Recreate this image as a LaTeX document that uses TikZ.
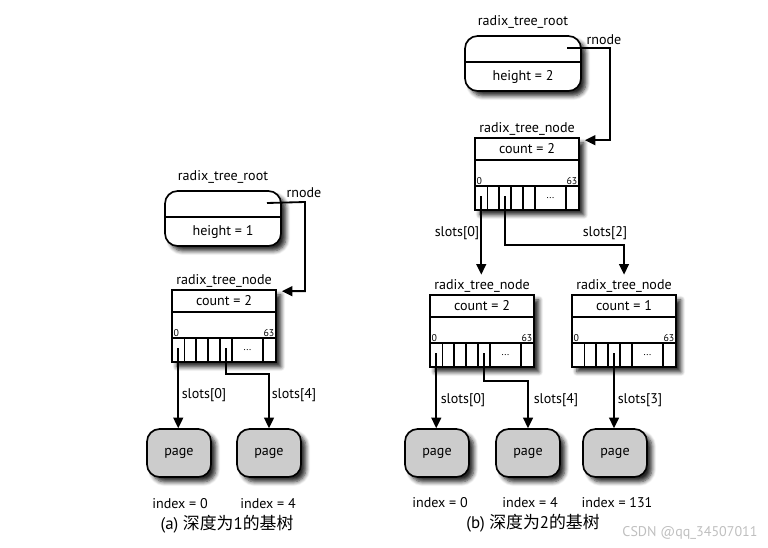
\documentclass[tikz,border=0pt]{standalone}
\usepackage{fontspec}
\setmainfont{PT Sans}
\newfontfamily\cjk{Noto Sans CJK SC}
\usetikzlibrary{arrows.meta,shadows.blur}

\tikzset{
  boxline/.style={line width=1.2pt},
  boxshadow/.style={blur shadow={shadow xshift=3.5pt,shadow yshift=-3.5pt,shadow blur steps=6,shadow blur radius=3pt,shadow opacity=85}},
  rootbox/.style={boxline,draw,fill=white,rounded corners=9pt,minimum width=2.9cm,minimum height=1.375cm,inner sep=0pt,boxshadow},
  nodebox/.style={boxline,draw,fill=white,minimum width=2.6cm,minimum height=1.8cm,inner sep=0pt,boxshadow},
  pagebox/.style={boxline,draw,fill=gray!40,rounded corners=9pt,minimum width=1.6cm,minimum height=1.2cm,boxshadow},
  ptr/.style={line width=1.3pt,-{Triangle[length=7.5pt,width=7pt]}},
  lbl/.style={font=\normalsize},
  idx/.style={font=\scriptsize,inner sep=1pt}
}

% radix_tree_root: name, x, y (top left), height
\newcommand\radixroot[4]{%
  \begin{scope}[shift={(#2,#3)}]
    \node[rootbox] (#1) at (58,27.5) {};
    \draw[boxline] (0,26) -- (116,26);
    \node[lbl] at (58,41) {height = #4};
    \node[lbl] (#1-lbl) at (58,-14) {radix\_tree\_root};
    \coordinate (#1-p) at (102,12);
  \end{scope}}

% radix_tree_node: name, x, y (top left), count
\newcommand\radixnode[4]{%
  \begin{scope}[shift={(#2,#3)}]
    \node[nodebox] (#1) at (52,36) {};
    \draw[boxline] (0,22) -- (104,22);
    \draw[boxline] (0,48) -- (104,48);
    \foreach \sx in {12.5,24,36,48,60,91}
      \draw[boxline] (\sx,48) -- (\sx,72);
    \node[lbl] at (52,11) {count = #4};
    \node[idx,anchor=south west] at (0,48) {0};
    \node[idx,anchor=south east] at (104,48) {63};
    \node[idx] at (75.5,60) {...};
    \node[lbl] (#1-lbl) at (52,-9) {radix\_tree\_node};
    \foreach \k/\sx in {0/6.25,1/18.25,2/30,3/42,4/54}
      \coordinate (#1-s\k) at (\sx,58);
  \end{scope}}

\begin{document}
\begin{tikzpicture}[x=0.025cm,y=-0.025cm]
\useasboundingbox (0,0) rectangle (768,547);

%% (a) depth 1
\radixroot{rA}{165}{191}{1}
\radixnode{tA}{172}{290}{2}

\node[pagebox] (pA1) at (179,453) {page};
\node[pagebox] (pA2) at (269,453) {page};
\node[lbl] (iA1) at (180,504) {index = 0};
\node[lbl] (iA2) at (268,504) {index = 4};

\coordinate (rA-bend) at (305,202);
\draw[ptr] (rA-p) -- (rA-bend) |- ([shift={(5,2)}]tA.north east);
\node[lbl] at (304,193) {rnode};

\draw[ptr] (tA-s0) -- (tA-s0 |- pA1.north);
\draw[ptr] (tA-s4) -- ++(0,26) -| (pA2.north);
\node[lbl] at (204,395) {slots[0]};
\node[lbl] at (294,395) {slots[4]};

\node[font=\large] (capA) at (227,524) {(a) {\cjk 深度为}1{\cjk 的基树}};

%% (b) depth 2
\radixroot{rB}{465}{36}{2}
\radixnode{tB}{475}{138}{2}
\radixnode{tC}{430}{295}{2}
\radixnode{tD}{572}{295}{1}

\node[pagebox] (pB1) at (437,453) {page};
\node[pagebox] (pB2) at (528,453) {page};
\node[pagebox] (pB3) at (615,453) {page};
\node[lbl] (iB1) at (440,503) {index = 0};
\node[lbl] (iB2) at (530,503) {index = 4};
\node[lbl] (iB3) at (617,503) {index = 131};

\coordinate (rB-bend) at (610,48);
\draw[ptr] (rB-p) -- (rB-bend) |- ([shift={(5,3)}]tB.north east);
\node[lbl] at (604,40) {rnode};

\draw[ptr] (tB-s0) -- (tB-s0 |- tC-lbl.north);
\draw[ptr] (tB-s2) -- ++(0,49) -| (tD-lbl.north);
\node[lbl] at (457,233) {slots[0]};
\node[lbl] at (605,233) {slots[2]};

\draw[ptr] (tC-s0) -- (tC-s0 |- pB1.north);
\draw[ptr] (tC-s4) -- ++(0,28) -| (pB2.north);
\draw[ptr] (tD-s3) -- (tD-s3 |- pB3.north);
\node[lbl] at (463,400) {slots[0]};
\node[lbl] at (556,400) {slots[4]};
\node[lbl] at (640,400) {slots[3]};

\node[font=\large] (capB) at (533,523) {(b) {\cjk 深度为}2{\cjk 的基树}};

\node[gray!50] (mark) at (690,533) {CSDN @qq\_34507011};
\end{tikzpicture}
\end{document}
